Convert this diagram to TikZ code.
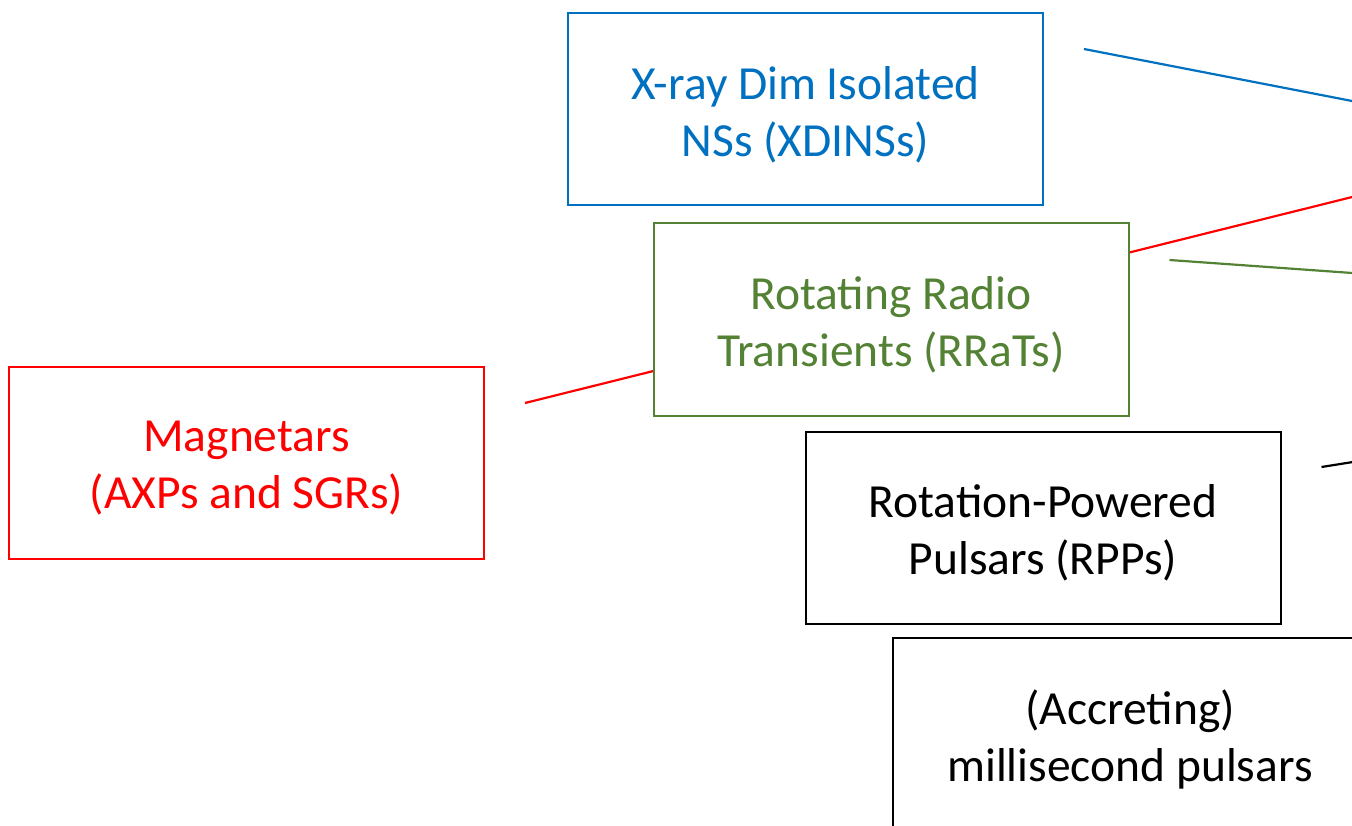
\documentclass[tikz,border=0pt]{standalone}
\usepackage{fontspec}
\setmainfont{Carlito}
\usetikzlibrary{calc,backgrounds}
\definecolor{xblue}{HTML}{0070C0}
\definecolor{xgreen}{HTML}{548235}
\definecolor{xred}{HTML}{FF0000}
\newcommand{\firstline}[1]{\raisebox{0pt}[\dimexpr\height+11pt\relax]{#1}}
\begin{document}
\begin{tikzpicture}[x=1pt,y=-1pt,
  classbox/.style={draw,fill=white,line width=2pt,minimum width=475pt,minimum height=192pt,
    inner sep=0pt,align=center,font=\fontsize{47.5}{57}\selectfont},
  link/.style={line width=2.2pt}]
\useasboundingbox (0,0) rectangle (1352,826);
\node[classbox,draw=xblue,text=xblue] (xdins) at (805.5,109) {\firstline{X-ray Dim Isolated}\\NSs (XDINSs)};
\node[classbox,draw=xgreen,text=xgreen] (rrat) at (891,319.5) {\firstline{Rotating Radio}\\Transients (RRaTs)};
\node[classbox,draw=xred,text=xred] (mag) at (246.5,463) {\firstline{Magnetars}\\(AXPs and SGRs)};
\node[classbox,draw=black,text=black] (rpp) at (1043,527.5) {\firstline{Rotation-Powered}\\Pulsars (RPPs)};
\node[classbox,draw=black,text=black] (msp) at (1130,734) {\firstline{(Accreting)}\\millisecond pulsars};
\coordinate (xdinsS) at ($(xdins.east)+(40,-60)$);
\coordinate (rratS) at ($(rrat.east)+(40,-59.5)$);
\coordinate (magS) at ($(mag.east)+(40,-60)$);
\coordinate (rppS) at ($(rpp.east)+(40,-60.5)$);
\coordinate (xdinsE) at (1400,110.3);
\coordinate (rratE) at (1400,276.4);
\coordinate (magE) at (1400,185.1);
\coordinate (rppE) at (1400,454.5);
\begin{scope}[on background layer]
\draw[link,xblue] (xdinsS) -- (xdinsE);
\draw[link,xgreen] (rratS) -- (rratE);
\draw[link,xred] (magS) -- (magE);
\draw[link,black] (rppS) -- (rppE);
\end{scope}
\end{tikzpicture}
\end{document}
